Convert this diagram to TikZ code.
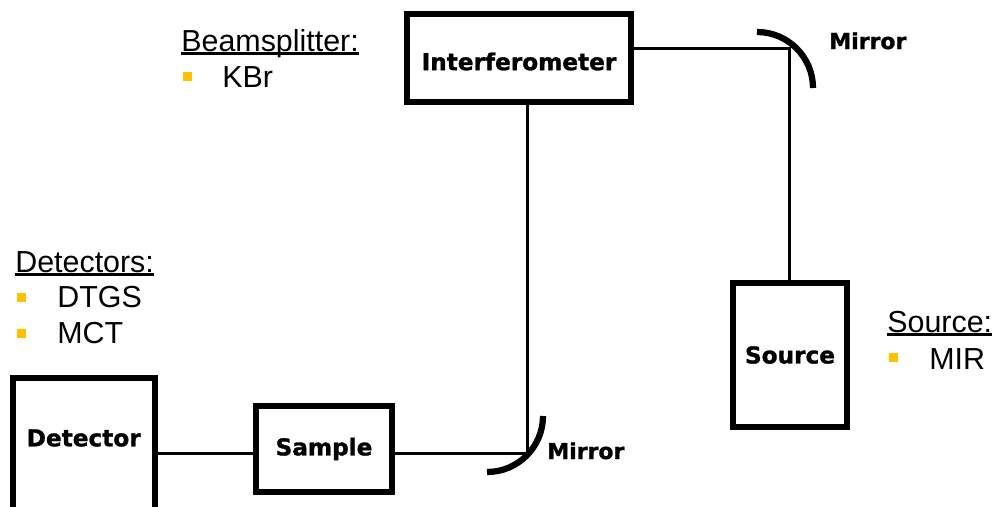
\documentclass[tikz,border=0pt]{standalone}
\usepackage{fontspec}
\setmainfont{Liberation Sans}
\newfontfamily\blockfont{DejaVu Sans}[BoldFeatures={FakeBold=1.2}]
\definecolor{bulletyellow}{HTML}{FFC000}

\begin{document}
\begin{tikzpicture}[
    block/.style={draw, rectangle, line width=0.12cm, inner sep=0pt,
      font=\blockfont\bfseries\fontsize{13.2}{15}\selectfont},
    blocktext/.style={inner sep=0pt, font=\blockfont\bfseries\fontsize{13.2}{15}\selectfont},
    beam/.style={line width=0.06cm},
    mirror/.style={line width=0.125cm},
    tag/.style={anchor=base west, inner sep=0pt,
      font=\blockfont\bfseries\fontsize{12.5}{15}\selectfont},
    heading/.style={anchor=base west, inner sep=0pt, text depth=0pt,
      font=\fontsize{17.3}{20}\selectfont,
      append after command={([yshift=-0.05cm]\tikzlastnode.south west)
        edge[line width=0.06cm] ([yshift=-0.05cm]\tikzlastnode.south east)}},
    entry/.style={anchor=base west, inner sep=0pt, font=\fontsize{17.3}{20}\selectfont},
    bullet/.style={rectangle, fill=bulletyellow, minimum size=0.18cm, inner sep=0pt}
  ]
  \clip (0,0) rectangle (19.9,10.12);

  % optical blocks
  \node[block, minimum width=4.47cm, minimum height=1.76cm,
    label={[blocktext, yshift=-0.07cm]center:Interferometer}] (interf) at (10.38,8.96) {};
  \node[block, minimum width=2.28cm, minimum height=2.87cm] (source) at (15.80,3.02) {Source};
  \node[block, minimum width=2.72cm, minimum height=1.73cm] (sample) at (6.48,1.14) {Sample};
  \node[block, minimum width=2.83cm, minimum height=3.2cm,
    label={[blocktext, yshift=0.4cm]center:Detector}] (detector) at (1.675,0.96) {};

  % beam path corners
  \coordinate (m1) at (15.79,9.16);
  \coordinate (m2) at (10.54,1.06);

  \begin{scope}[beam]
    \draw (interf.east |- m1) -- (m1) -- (m1 |- source.north);
    \draw (interf.south -| m2) -- (m2) -- (m2 -| sample.east);
    \draw (sample.west |- m2) -- (detector.east |- m2);
  \end{scope}

  % mirrors
  \draw[mirror] ([shift={(-0.65,0.32)}]m1) arc[start angle=90, end angle=0, radius=1.12];
  \draw[mirror] ([shift={(0.32,0.74)}]m2) arc[start angle=0, end angle=-90, radius=1.12];
  \node[tag] (mtop) at (16.58,9.14) {Mirror};
  \node[tag] (mbot) at (10.94,0.94) {Mirror};

  % component lists
  \node[heading] (bs) at (3.62,9.10) {Beamsplitter:};
  \node[bullet] (bs1) at (3.75,8.59) {};
  \node[entry] (kbr) at (4.44,8.38) {KBr};

  \node[heading] (det) at (0.30,4.68) {Detectors:};
  \node[bullet] (det1) at (0.43,4.18) {};
  \node[entry] (dtgs) at (1.14,3.98) {DTGS};
  \node[bullet] (det2) at (0.43,3.46) {};
  \node[entry] (mct) at (1.14,3.26) {MCT};

  \node[heading] (src) at (17.74,3.48) {Source:};
  \node[bullet] (src1) at (17.86,2.97) {};
  \node[entry] (mir) at (18.58,2.74) {MIR};
\end{tikzpicture}
\end{document}
